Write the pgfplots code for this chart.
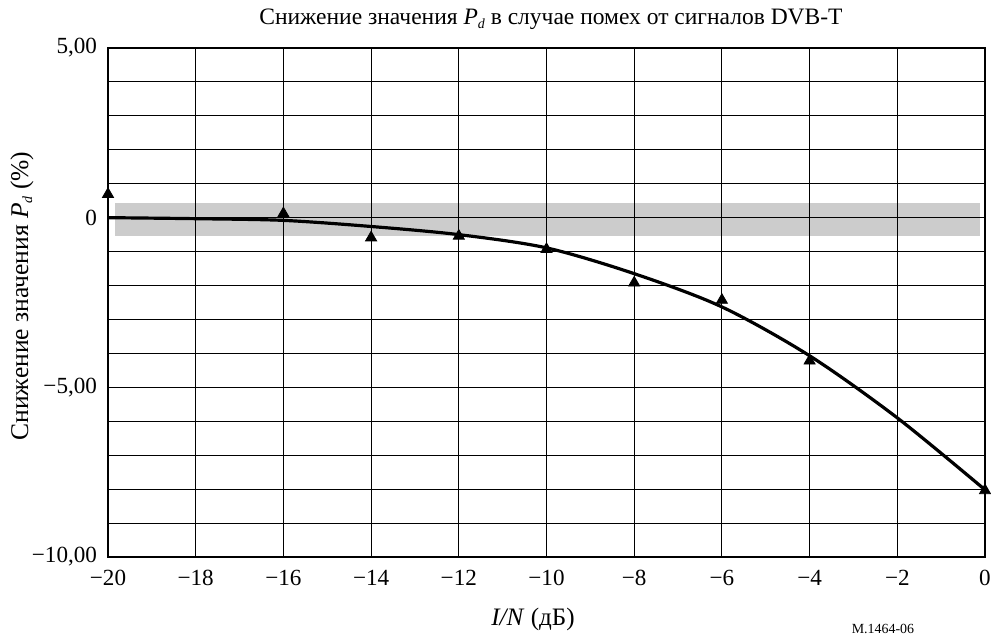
\documentclass[border=0pt]{standalone}
\usepackage{pgfplots}
\pgfplotsset{compat=1.18}
\usepackage{fontspec}
\setmainfont{Liberation Serif}
\definecolor{bandgray}{RGB}{204,204,204}
\begin{document}
\begin{tikzpicture}[x=1bp,y=1bp]
\begin{axis}[
  set layers,
  at={(0,0)}, anchor=south west,
  scale only axis,
  width=438.5bp, height=254.5bp,
  xmin=-20, xmax=0, ymin=-10, ymax=5,
  xtick={-20,-18,...,0},
  xticklabels={−20,−18,−16,−14,−12,−10,−8,−6,−4,−2,0},
  ytick={-10,-9,...,5},
  yticklabels={{−10,00},{},{},{},{},{−5,00},{},{},{},{},{0},{},{},{},{},{5,00}},
  /pgf/number format/assume math mode=true,
  major tick length=0pt,
  grid=major,
  grid style={black, line width=0.55pt},
  axis line style={black, line width=0.7pt},
  tick label style={font=\fontsize{11.6}{13}\selectfont},
  xticklabel style={yshift=-3bp},
  yticklabel style={xshift=-2bp},
  clip=false,
]
\addplot[fill=bandgray, draw=none, on layer=axis background]
  coordinates {(-19.85,-0.55) (-0.12,-0.55) (-0.12,0.43) (-19.85,0.43)} -- cycle;
\addplot[black, line width=1.6pt, smooth, no marks] coordinates {
  (-20,0) (-18,-0.03) (-16,-0.08) (-14,-0.26) (-12,-0.5) (-10,-0.89)
  (-8,-1.65) (-6,-2.63) (-4,-4.07) (-2,-5.9) (0,-8.02)};
\addplot[only marks, mark=triangle*, mark size=3.2pt, black] coordinates {
  (-20,0.69) (-16,0.12) (-14,-0.59) (-12,-0.54) (-10,-0.93)
  (-8,-1.92) (-6,-2.43) (-4,-4.22) (0,-8.04)};
\end{axis}
% title
\node[font=\fontsize{11.8}{13}\selectfont, anchor=base] at (221.5bp,266bp)
  {Снижение значения \textit{P}\raisebox{-0.35ex}{\scriptsize\textit{d}} в случае помех от сигналов DVB-T};
% x label
\node[font=\fontsize{12.6}{14}\selectfont] at (212.5bp,-31bp) {\textit{I/N} (дБ)};
% y label
\node[font=\fontsize{12.8}{14}\selectfont, rotate=90] at (-43bp,130.5bp)
  {Снижение значения \textit{P}\raisebox{-0.35ex}{\scriptsize\textit{d}} (\%)};
% watermark
\node[font=\fontsize{7}{8}\selectfont] at (387.5bp,-36bp) {M.1464-06};
\pgfresetboundingbox
\path[use as bounding box] (-54bp,-40bp) rectangle (441.5bp,278.5bp);
\end{tikzpicture}
\end{document}
